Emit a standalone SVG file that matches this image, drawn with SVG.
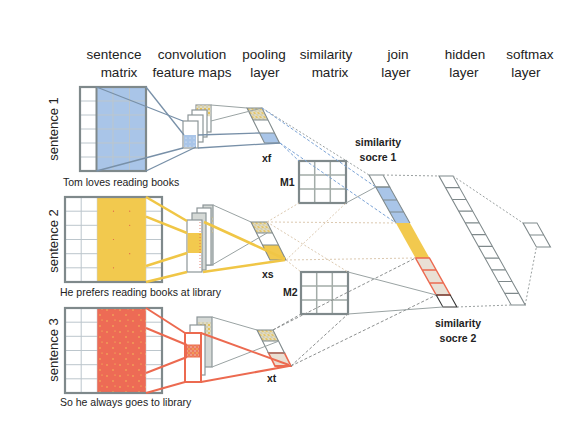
<svg xmlns="http://www.w3.org/2000/svg" width="577" height="427" viewBox="0 0 577 427">
<defs>
<pattern id="hatchY" width="4" height="4" patternUnits="userSpaceOnUse"><rect width="4" height="4" fill="#e2dcc0"/><circle cx="1" cy="1" r="0.9" fill="#e8b52a"/><circle cx="3" cy="3" r="0.8" fill="#bfbfa8"/></pattern>
<pattern id="hatchR" width="4" height="4" patternUnits="userSpaceOnUse"><rect width="4" height="4" fill="#ee7a5e"/><circle cx="1" cy="1" r="0.8" fill="#f4c84c"/><circle cx="3" cy="3" r="0.7" fill="#e9d6c8"/></pattern>
<pattern id="hatchB" width="4" height="4" patternUnits="userSpaceOnUse"><rect width="4" height="4" fill="#a9c5e8"/><circle cx="2" cy="2" r="0.6" fill="#eef3fa"/></pattern>
<pattern id="speck" width="13" height="11" patternUnits="userSpaceOnUse"><rect width="13" height="11" fill="#ed6b55"/><circle cx="3" cy="2" r="0.7" fill="#f6d25a"/><circle cx="9" cy="7" r="0.7" fill="#f6d25a"/><circle cx="11" cy="1" r="0.6" fill="#f6d25a"/></pattern>
</defs>
<style>
.t{font-family:"Liberation Sans",Arial,sans-serif;fill:#222}
.h{font-size:13.5px;text-anchor:middle}
.s{font-size:13px;text-anchor:middle}
.c{font-size:10.5px}
.b{font-size:10.5px;font-weight:bold}
.bc{font-size:10.5px;font-weight:bold;text-anchor:middle}
.frame{fill:none;stroke:#7f898b;stroke-width:2.2}
.grid{stroke:#bcc6cc;stroke-width:1;fill:none}
.mgrid{stroke:#a3aca8;stroke-width:1.5;fill:none}
.map{fill:#fff;stroke:#8d9698;stroke-width:1.2}
.gmap{fill:#d5d9d6;stroke:#8d9698;stroke-width:1.2}
.cl{stroke:#7f898b;stroke-width:1.2;fill:none}
.m1{stroke:#7890a8;stroke-width:1.3}
.m2{stroke:#f0c646;stroke-width:2.6}
.m3{stroke:#ec6a50;stroke-width:2}
.gl{stroke:#9aa3a3;stroke-width:1}
.bd{stroke:#7ba3d6;stroke-width:1;stroke-dasharray:3 2}
.gd{stroke:#9aa0a0;stroke-width:1;stroke-dasharray:2 2}
.be{stroke:#dcc9b0;stroke-width:1;stroke-dasharray:2 2}
.kd{stroke:#8d9090;stroke-width:1;stroke-dasharray:3 2}
</style>

<g id="headers" class="t h">
<text x="114" y="59">sentence</text><text x="119" y="77">matrix</text>
<text x="192" y="59">convolution</text><text x="192" y="77">feature maps</text>
<text x="264" y="59">pooling</text><text x="265" y="77">layer</text>
<text x="326" y="59">similarity</text><text x="330" y="77">matrix</text>
<text x="398" y="59">join</text><text x="396" y="77">layer</text>
<text x="465" y="59">hidden</text><text x="464" y="77">layer</text>
<text x="530" y="59">softmax</text><text x="526" y="77">layer</text>
</g>

<g id="sentence1">
<text class="t s" transform="translate(58,129) rotate(-90)">sentence 1</text>
<rect x="96.5" y="87" width="49.5" height="84" fill="#a9c5e8"/>
<path class="grid" d="M113 87V171M129.5 87V171M80 101H146M80 115H146M80 129H146M80 143H146M80 157H146"/>
<line x1="96.5" y1="87" x2="96.5" y2="171" stroke="#7f898b" stroke-width="2"/>
<rect class="frame" x="80" y="87" width="66" height="84"/>
<text class="t c" x="63" y="186">Tom loves reading books</text>
</g>

<g id="sentence2">
<text class="t s" transform="translate(58,241) rotate(-90)">sentence 2</text>
<path class="grid" d="M81.2 197V282M97.3 197V282M113.5 197V282M129.7 197V282M145.8 197V282M65 211.2H162M65 225.3H162M65 239.5H162M65 253.7H162M65 267.8H162"/>
<rect x="97.3" y="197" width="48.5" height="85" fill="#f2c94e"/>
<g fill="#e0604a"><circle cx="113.5" cy="211.2" r="0.6"/><circle cx="129.7" cy="225.3" r="0.6"/><circle cx="113.5" cy="239.5" r="0.6"/><circle cx="129.7" cy="253.7" r="0.6"/><circle cx="113.5" cy="267.8" r="0.6"/><circle cx="129.7" cy="211.2" r="0.6"/></g>
<rect class="frame" x="65" y="197" width="97" height="85"/>
<text class="t c" x="60" y="296">He prefers reading books at library</text>
</g>

<g id="sentence3">
<text class="t s" transform="translate(58,350) rotate(-90)">sentence 3</text>
<path class="grid" d="M81.2 308V393M97.3 308V393M113.5 308V393M129.7 308V393M145.8 308V393M65 322.2H162M65 336.3H162M65 350.5H162M65 364.7H162M65 378.8H162"/>
<rect x="97.3" y="308" width="48.5" height="85" fill="url(#speck)"/>
<rect class="frame" x="65" y="308" width="97" height="85"/>
<text class="t c" x="60" y="406">So he always goes to library</text>
</g>

<g id="conv1">
<rect class="map" x="196" y="105" width="15" height="27"/>
<rect x="196.6" y="105.6" width="13.8" height="10.5" fill="url(#hatchY)"/>
<rect class="map" x="192" y="110" width="15" height="27"/>
<rect class="map" x="188" y="115" width="15" height="27"/>
<rect class="map" x="183" y="121" width="15" height="27" stroke="#8fa6bf"/>
<rect x="184" y="135" width="12" height="12" fill="url(#hatchB)"/>
</g>

<g id="conv2">
<rect class="gmap" x="203" y="205" width="10" height="60"/>
<rect x="203.6" y="217" width="8.8" height="16" fill="url(#hatchY)"/>
<rect class="map" x="197" y="208" width="14" height="57"/>
<rect class="gmap" x="192" y="213" width="14" height="57"/>
<rect class="map" x="187" y="220" width="15" height="52"/>
<rect x="187.6" y="233" width="14" height="20" fill="#f2c94e"/>
<line x1="200" y1="222" x2="200" y2="270" stroke="#e0604a" stroke-width="0.8" stroke-dasharray="1 2"/>
</g>

<g id="conv3">
<rect class="gmap" x="197" y="317" width="15" height="50"/>
<rect x="198" y="322" width="13" height="12" fill="url(#hatchY)"/>
<rect class="map" x="190" y="325" width="15" height="50"/>
<rect x="185" y="333" width="16" height="49" fill="#fff" stroke="#ec6a50" stroke-width="2"/>
<rect x="186.5" y="345" width="13" height="12" fill="url(#hatchR)" stroke="#ec6a50" stroke-width="1"/>
</g>

<g id="pool1" transform="translate(247,108) skewX(26.565)">
<rect x="0" y="0" width="15" height="12" fill="url(#hatchY)"/>
<rect x="0" y="25" width="15" height="10" fill="#a9c5e8"/>
<rect class="cl" x="0" y="0" width="15" height="35" stroke="#9aa3a3"/>
<path class="cl" d="M0 12H15M0 25H15" stroke="#b0b8b8"/>
</g>
<text id="xf" class="t b" x="262" y="162">xf</text>

<g id="pool2" transform="translate(251,222) skewX(26.565)">
<rect x="0" y="0" width="16" height="11" fill="url(#hatchY)"/>
<rect x="0" y="23" width="16" height="15" fill="#f2c94e"/>
<rect class="cl" x="0" y="0" width="16" height="38" stroke="#9aa3a3"/>
<path class="cl" d="M0 11H16M0 23H16" stroke="#b0b8b8"/>
</g>
<text id="xs" class="t b" x="262" y="278">xs</text>

<g id="pool3" transform="translate(257,330) skewX(26.565)">
<rect x="0" y="0" width="16" height="11" fill="url(#hatchY)"/>
<rect x="0" y="23" width="16" height="13" fill="#eadfd3" stroke="#ec6a50" stroke-width="1.8"/>
<rect class="cl" x="0" y="0" width="16" height="23" stroke="#9aa3a3"/>
<path class="cl" d="M0 11H16" stroke="#b0b8b8"/>
</g>
<text id="xt" class="t b" x="267" y="382">xt</text>

<g id="M1">
<path class="mgrid" d="M314.7 161V203M330.3 161V203M299 175H346M299 189H346"/>
<rect class="frame" x="299" y="161" width="47" height="42"/>
<text class="t b" x="280" y="186">M1</text>
</g>

<g id="M2">
<path class="mgrid" d="M316.7 272V314M332.3 272V314M301 286H348M301 300H348"/>
<rect class="frame" x="301" y="272" width="47" height="42"/>
<text class="t b" x="283" y="296">M2</text>
</g>

<g id="join" transform="translate(369,175) skewX(29.25)">
<rect x="0" y="12" width="14" height="36" fill="#a9c5e8"/>
<rect x="0" y="48" width="14" height="35" fill="#f2c94e"/>
<rect x="0" y="83" width="14" height="37" fill="#e9e0d5"/>
<rect class="cl" x="0" y="0" width="14" height="12"/>
<path class="cl" d="M0 12H14V48M0 12V48M0 25H14M0 37H14" stroke="#7f8a90"/>
<path d="M0 83H14V120H0ZM0 95H14M0 108H14" fill="none" stroke="#ec6a50" stroke-width="1.6"/>
<rect x="0" y="120" width="14" height="12" fill="none" stroke="#333" stroke-width="1.2"/>
</g>
<g id="score1" class="t bc"><text x="378" y="146">similarity</text><text x="378" y="161">socre 1</text></g>
<g id="score2" class="t bc"><text x="458" y="327">similarity</text><text x="458" y="342">socre 2</text></g>

<g id="hidden" transform="translate(439,176) skewX(29.25)">
<rect class="cl" x="0" y="0" width="14" height="129" stroke-width="1.4"/>
<path class="cl" d="M0 11.7H14M0 23.5H14M0 35.2H14M0 46.9H14M0 58.6H14M0 70.4H14M0 82.1H14M0 93.8H14M0 105.5H14M0 117.3H14"/>
</g>

<g id="softmax" transform="translate(523,223) skewX(29.25)">
<rect class="cl" x="0" y="0" width="14" height="24" stroke-width="1.4"/>
<path class="cl" d="M0 12H14"/>
</g>

<g id="connectors" fill="none">
<line class="m1" x1="96.5" y1="87" x2="183" y2="121"/>
<line class="m1" x1="146" y1="87" x2="184" y2="135"/>
<line class="m1" x1="96.5" y1="171" x2="183" y2="148"/>
<line class="m1" x1="146" y1="171" x2="196" y2="147"/>
<line class="m2" x1="146" y1="197" x2="187" y2="221"/>
<line class="m2" x1="146" y1="216.6" x2="187" y2="233"/>
<line class="m2" x1="146" y1="266" x2="187" y2="253"/>
<line class="m2" x1="146" y1="282" x2="187" y2="272"/>
<line class="m3" x1="146" y1="308" x2="185" y2="333"/>
<line class="m3" x1="146" y1="328" x2="187" y2="345"/>
<line class="m3" x1="146" y1="373" x2="187" y2="357"/>
<line class="m3" x1="146" y1="393" x2="185" y2="382"/>

<line class="gl" x1="211" y1="105" x2="247" y2="108"/>
<line class="gl" x1="211" y1="121" x2="262" y2="108"/>
<line class="m1" x1="198" y1="135" x2="259.5" y2="133"/>
<line class="m1" x1="198" y1="148" x2="280" y2="143"/>
<line class="gl" x1="213" y1="205" x2="251" y2="222"/>
<line class="gl" x1="212" y1="265" x2="267" y2="233"/>
<line class="m2" x1="204" y1="222" x2="285" y2="259" stroke-width="2"/>
<line class="m2" x1="203" y1="272" x2="285" y2="260" stroke-width="2"/>
<line class="gl" x1="212" y1="317" x2="257" y2="330"/>
<line class="gl" x1="212" y1="367" x2="279" y2="341"/>
<line class="m3" x1="201" y1="333" x2="289" y2="365" stroke-width="1.8"/>
<line class="m3" x1="201" y1="382" x2="289" y2="366" stroke-width="1.8"/>

<line class="gd" x1="262" y1="108" x2="369" y2="175"/>
<line class="bd" x1="280" y1="143" x2="299" y2="161"/>
<line class="bd" x1="262" y1="108" x2="375.7" y2="187"/>
<line class="bd" x1="280" y1="143" x2="395.9" y2="223"/>
<line class="gl" x1="346" y1="203" x2="375.7" y2="187"/>
<line class="be" x1="267" y1="222" x2="299" y2="203"/>
<line class="be" x1="286" y1="260" x2="346" y2="203"/>
<line class="be" x1="267" y1="222" x2="348" y2="272"/>
<line class="be" x1="286" y1="260" x2="301" y2="272"/>
<line class="be" x1="267" y1="222" x2="395.9" y2="223"/>
<line class="be" x1="286" y1="260" x2="415.5" y2="258"/>
<line class="kd" x1="273" y1="330" x2="301" y2="314"/>
<line class="kd" x1="291" y1="366" x2="348" y2="314"/>
<line class="kd" x1="273" y1="330" x2="415.5" y2="258"/>
<line class="kd" x1="291" y1="366" x2="436.2" y2="295"/>
<line class="gl" x1="348" y1="272" x2="436.2" y2="295"/>
<line class="gl" x1="348" y1="314" x2="442.9" y2="307"/>
<line class="gd" x1="383" y1="175" x2="439" y2="176"/>
<line class="gd" x1="457" y1="307" x2="511.2" y2="305"/>
<line class="gd" x1="453" y1="176" x2="523" y2="223"/>
<line class="gd" x1="525.2" y1="305" x2="536.4" y2="247"/>
</g>
</svg>
